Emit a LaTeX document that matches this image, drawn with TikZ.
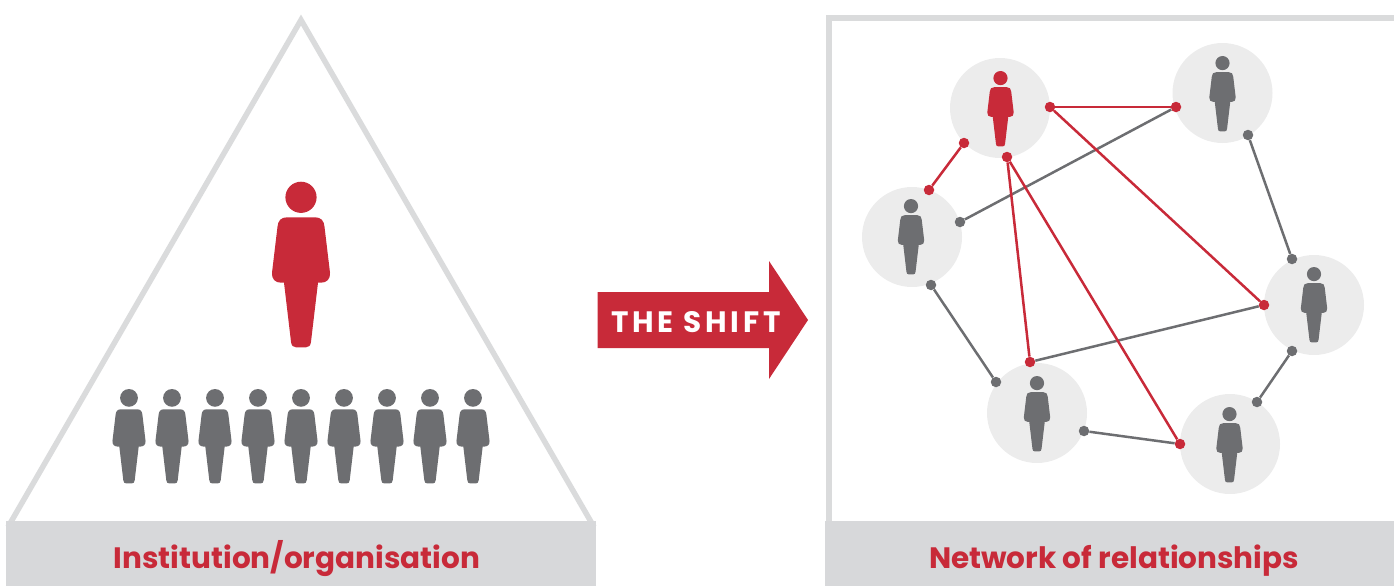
\documentclass[tikz,border=0pt]{standalone}
\usepackage{fontspec}
\setmainfont{Poppins}
\newfontfamily\shiftfont[LetterSpace=12.5]{Poppins}
\definecolor{shiftred}{HTML}{C82A39}
\definecolor{persongray}{HTML}{6D6E71}
\definecolor{framegray}{HTML}{DADBDC}
\definecolor{bargray}{HTML}{D7D8DA}
\definecolor{discgray}{HTML}{ECECEC}
\tikzset{
	person/.pic={
		\fill[pic actions] (0,15.6) circle (15.6);
		\fill[pic actions] (-14,35.6) -- (14,35.6)
			.. controls (20,35.6) and (23,39) .. (23.5,45) -- (29,91)
			.. controls (29.5,97) and (26,101) .. (20,101) -- (17,101) -- (10,160)
			.. controls (9.5,164) and (8,165.6) .. (5,165.6) -- (-5,165.6)
			.. controls (-8,165.6) and (-9.5,164) .. (-10,160) -- (-17,101) -- (-20,101)
			.. controls (-26,101) and (-29.5,97) .. (-29,91) -- (-23.5,45)
			.. controls (-23,39) and (-20,35.6) .. (-14,35.6) -- cycle;
	},
	disc/.style={circle,fill=discgray,minimum size=100pt,inner sep=0pt},
	rdot/.style={circle,fill=shiftred,minimum size=10.5pt,inner sep=0pt},
	gdot/.style={circle,fill=persongray,minimum size=10.5pt,inner sep=0pt},
	rline/.style={shiftred,line width=2.5pt},
	gline/.style={persongray,line width=2.5pt},
	barlabel/.style={shiftred,anchor=base,font=\bfseries\fontsize{29.5}{29.5}\selectfont}
}
\begin{document}
\begin{tikzpicture}[x=1pt,y=-1pt]
	\useasboundingbox (0,0) rectangle (1394,586);

	% left side
	\draw[framegray,line width=5.5pt,line join=miter] (8,527) -- (301,20) -- (594,527);
	\fill[bargray] (6,521) rectangle (596,586);
	\pic[fill=shiftred,scale=1] at (301,181.7) {person};
	\foreach \i in {0,...,8}
		\pic[fill=persongray,scale=.57] at (129+43*\i,389) {person};
	\node[barlabel] (inst) at (297,568.5) {Institution/organisation};

	% arrow
	\fill[shiftred] (597.5,292) -- (769,292) -- (769,261) -- (808,320) -- (769,379) -- (769,348) -- (597.5,348) -- cycle;
	\node[white,anchor=base,font=\shiftfont\bfseries\fontsize{29.5}{29.5}\selectfont] (shift) at (696,332) {THE SHIFT};

	% right side
	\draw[framegray,line width=5.5pt] (829,521) -- (829,18) -- (1394,18);
	\fill[bargray] (825,521) rectangle (1394,586);
	\node[barlabel] (net) at (1114,568.5) {Network of relationships};

	\node[disc] (c1) at (1000,108) {};
	\node[disc] (c2) at (1222.5,93) {};
	\node[disc] (c3) at (912,237) {};
	\node[disc] (c4) at (1314,305) {};
	\node[disc] (c5) at (1037,413) {};
	\node[disc] (c6) at (1230,444) {};

	\pic[fill=shiftred,scale=.455] at (1000.5,71) {person};
	\pic[fill=persongray,scale=.455] at (1222.5,56) {person};
	\pic[fill=persongray,scale=.455] at (911,199) {person};
	\pic[fill=persongray,scale=.455] at (1314,267) {person};
	\pic[fill=persongray,scale=.455] at (1037,376) {person};
	\pic[fill=persongray,scale=.455] at (1229.5,407) {person};

	\node[rdot] (r1) at (964,143) {};
	\node[rdot] (r2) at (929,190) {};
	\node[rdot] (r3) at (1050,107) {};
	\node[rdot] (r4) at (1176,107) {};
	\node[rdot] (r5) at (1264,305) {};
	\node[rdot] (r6) at (1007,157) {};
	\node[rdot] (r7) at (1030,362) {};
	\node[rdot] (r8) at (1180,444) {};
	\node[gdot] (g1) at (960,222) {};
	\node[gdot] (g2) at (1248,135) {};
	\node[gdot] (g3) at (1292,259) {};
	\node[gdot] (g4) at (1292,351) {};
	\node[gdot] (g5) at (1257,402) {};
	\node[gdot] (g6) at (1084,431) {};
	\node[gdot] (g7) at (931,285) {};
	\node[gdot] (g8) at (996,382) {};

	\draw[gline] (g1) -- (r4);
	\draw[gline] (g2) -- (g3);
	\draw[gline] (r7) -- (r5);
	\draw[gline] (g4) -- (g5);
	\draw[gline] (g6) -- (r8);
	\draw[gline] (g7) -- (g8);
	\draw[rline] (r1) -- (r2);
	\draw[rline] (r3) -- (r4);
	\draw[rline] (r3) -- (r5);
	\draw[rline] (r6) -- (r7);
	\draw[rline] (r6) -- (r8);
\end{tikzpicture}
\end{document}
